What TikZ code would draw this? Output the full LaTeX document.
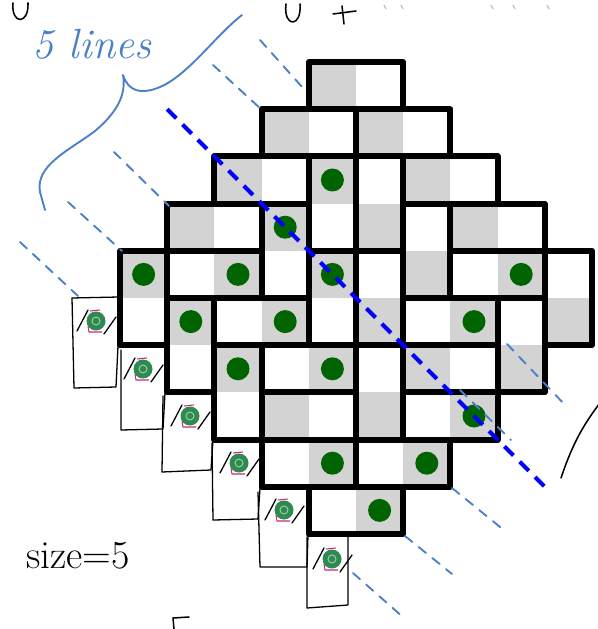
\documentclass[tikz,border=0pt]{standalone}
\usepackage{fontspec}
\definecolor{cellgray}{RGB}{211,211,211}
\definecolor{dotgreen}{RGB}{0,100,0}
\definecolor{penblue}{RGB}{74,128,200}
\definecolor{boldblue}{RGB}{0,0,255}
\definecolor{pengreen}{RGB}{46,139,80}
\begin{document}
\begin{tikzpicture}[x=0.03cm,y=-0.03cm,
  domino/.style={draw=black, line width=5pt, line join=round},
  dotg/.style={fill=dotgreen},
  boldline/.style={boldblue, line width=3.4pt, dash pattern=on 11pt off 7.5pt},
  penline/.style={penblue, line width=1.6pt, dash pattern=on 8pt off 7pt, line cap=round},
  pen/.style={black, line width=1.1pt, line cap=round, line join=round},
  handtext/.style={font=\fontsize{34}{40}\selectfont}]
\useasboundingbox (0,0) rectangle (597,629);
\fill[white] (0,0) rectangle (597,629);

% gray cells: HL and VT (gray at r,c)
\foreach \r/\c in {0/4,1/3,1/5,2/2,2/6,3/1,3/7,6/6,7/3, 2/4,3/3,4/0,4/4,5/1,6/2}
  \fill[cellgray] ({120+47.2*\c},{62+47.2*\r}) rectangle ++(47.2,47.2);
% VB (gray at r+1,c)
\foreach \r/\c in {2/5,3/6,4/5,4/9,5/8,6/5}
  \fill[cellgray] ({120+47.2*\c},{62+47.2*(\r+1)}) rectangle ++(47.2,47.2);
% HR (gray at r,c+1)
\foreach \r/\c in {4/1,4/7,5/2,5/6,6/3,7/6,8/3,8/5,9/4}
  \fill[cellgray] ({120+47.2*(\c+1)},{62+47.2*\r}) rectangle ++(47.2,47.2);

% domino borders
\foreach \r/\c in {0/4,1/3,1/5,2/2,2/6,3/1,3/7,6/6,7/3,4/1,4/7,5/2,5/6,6/3,7/6,8/3,8/5,9/4}
  \draw[domino] ({120+47.2*\c},{62+47.2*\r}) rectangle ++(94.4,47.2);
\foreach \r/\c in {2/5,3/6,4/5,4/9,5/8,6/5,2/4,3/3,4/0,4/4,5/1,6/2}
  \draw[domino] ({120+47.2*\c},{62+47.2*\r}) rectangle ++(47.2,94.4);

% dots
\foreach \r/\c in {2/4,3/3,4/0,4/4,5/1,6/2}
  \fill[dotg] ({120+47.2*\c+23.6},{62+47.2*\r+23.6}) circle (11.5);
\foreach \r/\c in {4/1,4/7,5/2,5/6,6/3,7/6,8/3,8/5,9/4}
  \fill[dotg] ({120+47.2*(\c+1)+23.6},{62+47.2*\r+23.6}) circle (11.5);

% light dashed hand lines
\draw[penline] (260,40) -- (303,88);
\draw[penline] (213,65) -- (262,110);
\draw[penline] (114,152) -- (169,206);
\draw[penline] (68,202) -- (122,251);
\draw[penline] (20,242) -- (78,296);
\draw[penline] (507,344) -- (566,406);
\draw[penline] (460,390) -- (511,440);
\draw[penline] (452,488) -- (505,531);
\draw[penline] (405,536) -- (452,574);
\draw[penline] (353,573) -- (404,618);

% bold blue dashed diagonal
\coordinate (bs) at (167.2,109.2);
\coordinate (be) at (544.8,486.8);
\draw[boldline] (bs) -- (be);

% hand-drawn boxes
\draw[pen] (72,298) -- (119,297);
\draw[pen] (72,298) -- (74,388) -- (116,387) -- (118,346);
\draw[pen] (121,350) -- (121,430) -- (163,429) -- (165,393);
\draw[pen] (163,396) -- (162,472) -- (211,470) -- (213,440);
\draw[pen] (212,443) -- (213,520) -- (258,519) -- (260,488);
\draw[pen] (258,492) -- (260,567) -- (307,567) -- (308,535);
\draw[pen] (307,537) -- (307,608) -- (348,605) -- (348,533);

% circled dots in boxes
\foreach \px/\py in {96/321,143/369,190/416,239/463,284/510,332/559} {
  \fill[pengreen] (\px,\py) circle (9.5);
  \draw[white!55!pengreen, line width=0.8pt] (\px,\py) circle (4);
  \draw[magenta!80!black, line width=0.9pt] (\px-8,\py+5) -- (\px-7,\py+11) -- (\px+6,\py+11);
  \draw[magenta!80!black, line width=0.9pt] (\px-6,\py-10) -- (\px+4,\py-11);
  \draw[pen] (\px-19,\py+10) -- (\px-8,\py-11);
  \draw[pen] (\px+8,\py+13) -- (\px+20,\py-4);
}

% brace and label
\draw[penblue, line width=1.6pt, line cap=round, line join=round]
  (242,15) .. controls (210,40) and (180,88) .. (145,91)
  .. controls (132,92) and (126,84) .. (123,75)
  .. controls (126,92) and (120,110) .. (95,131)
  .. controls (70,150) and (35,165) .. (40,192) -- (45,210);
\node[text=penblue, font=\itshape\fontsize{36}{42}\selectfont] (lines) at (92,44) {5 lines};
\node[handtext] (size) at (78,556) {size=5};

% right arc
\draw[pen, line width=1.3pt] (561,478) .. controls (572,445) and (583,425) .. (600,403);

% fragments cut by the top and bottom edge
\draw[pen, line width=1.3pt] (13,3) .. controls (11,25) and (29,25) .. (28,3);
\draw[pen, line width=1.3pt] (286,4) .. controls (283,28) and (302,28) .. (300,4);
\draw[pen, line width=1.3pt] (333,14) -- (356,11);
\draw[pen, line width=1.3pt] (342,6) -- (344,24);
\foreach \gx in {384,401,491,513,547}
  \draw[black!25, line width=1pt] (\gx,5) -- (\gx+2,9);
\draw[pen, line width=1.3pt] (174,629) -- (173,618) -- (189,617);
\end{tikzpicture}
\end{document}
